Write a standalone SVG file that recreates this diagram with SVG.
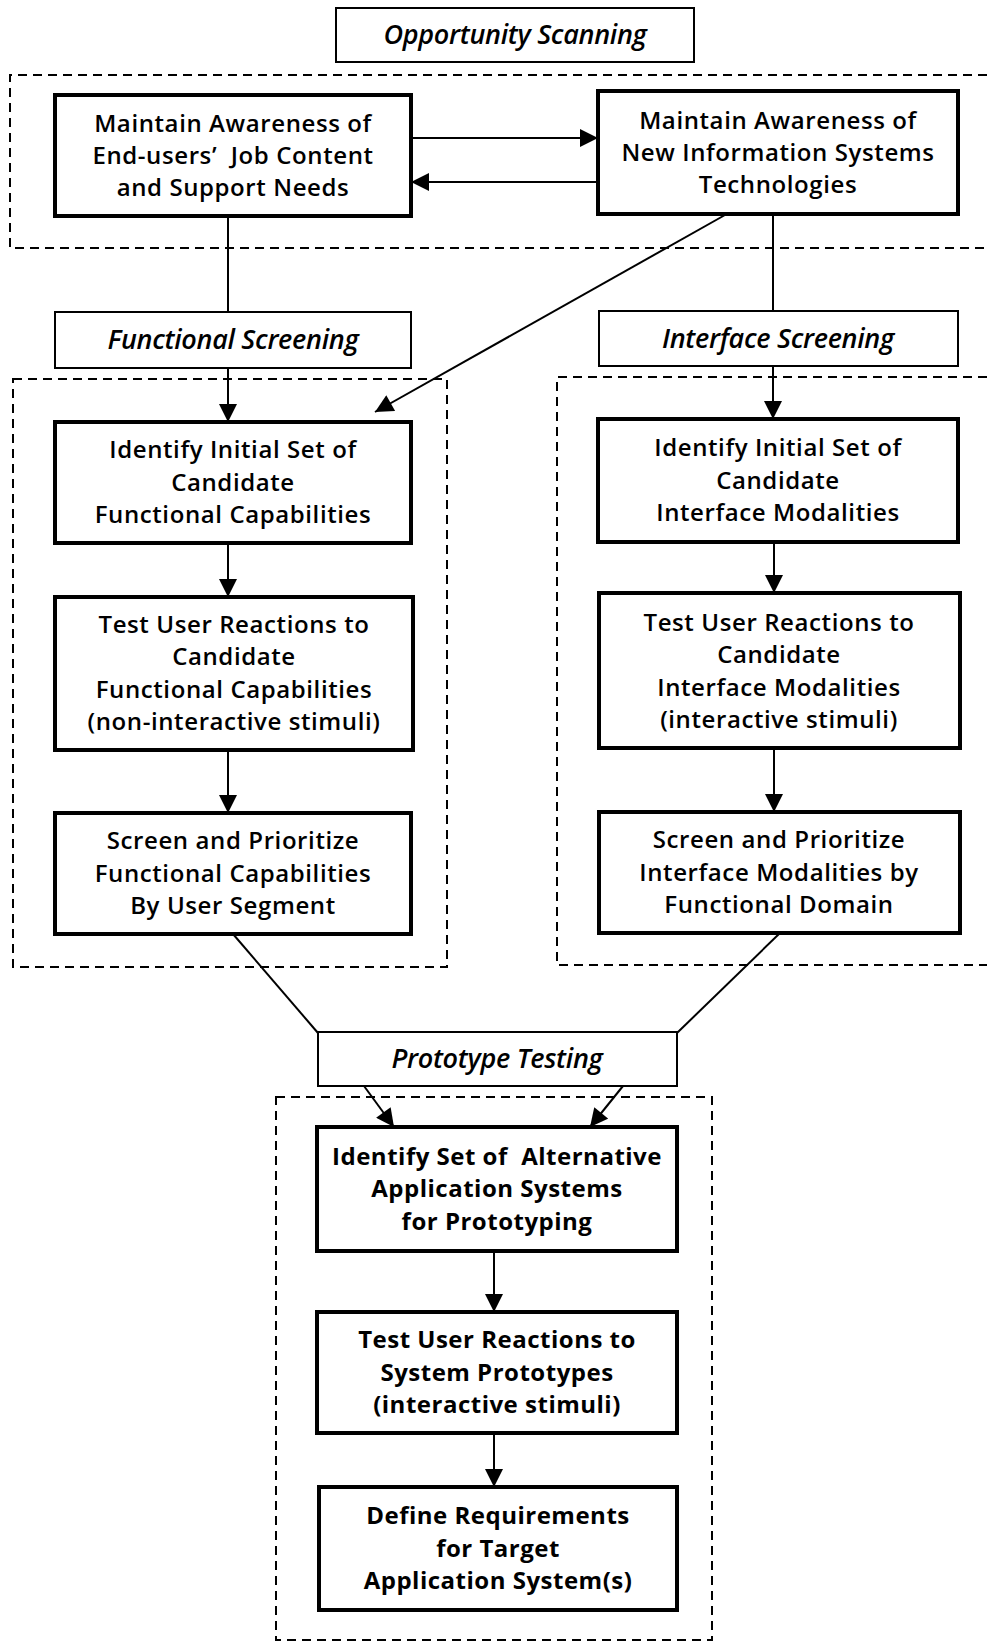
<svg xmlns="http://www.w3.org/2000/svg" width="987" height="1642" viewBox="0 0 987 1642">
  <style>
    .bg { fill: #ffffff; }
    .step { fill: #ffffff; stroke: #000; stroke-width: 4; }
    .phase { fill: #ffffff; stroke: #000; stroke-width: 2; }
    .group { fill: none; stroke: #000; stroke-width: 2; stroke-dasharray: 9 6; }
    .link { fill: none; stroke: #000; stroke-width: 2; }
    .arrow { fill: none; stroke: #000; stroke-width: 2; marker-end: url(#head); }
    text { font-family: "Open Sans", "Liberation Sans", sans-serif; fill: #000; text-anchor: middle; }
    .t { font-size: 24px; letter-spacing: 0.6px; font-weight: 600; }
    .tb { font-size: 24px; letter-spacing: 0.5px; font-weight: 700; }
    .h { font-size: 27px; font-style: italic; font-weight: 600; letter-spacing: -0.3px; }
  </style>
  <defs>
    <marker id="head" viewBox="0 0 10 10" refX="10" refY="5" markerWidth="9.5" markerHeight="9" orient="auto" markerUnits="strokeWidth">
      <path d="M0,0 L10,5 L0,10 z" fill="#000"/>
    </marker>
  </defs>

  <rect class="bg" x="0" y="0" width="987" height="1642"/>

  <!-- dashed phase groupings (right-hand ones run off the page edge) -->
  <g id="groups">
    <path class="group" d="M987,75 H10 V248 H987"/>
    <rect class="group" x="13" y="379" width="434" height="588"/>
    <path class="group" d="M987,377 H557 V965 H987"/>
    <rect class="group" x="276" y="1097" width="436" height="543"/>
  </g>

  <!-- connectors -->
  <g id="connectors">
    <line class="arrow" x1="411" y1="138" x2="598" y2="138"/>
    <line class="arrow" x1="598" y1="182" x2="411" y2="182"/>
    <line class="link" x1="228" y1="216" x2="228" y2="312"/>
    <line class="link" x1="773" y1="214" x2="773" y2="311"/>
    <line class="arrow" x1="725" y1="215" x2="375" y2="412"/>
    <line class="arrow" x1="228" y1="368" x2="228" y2="422"/>
    <line class="arrow" x1="228" y1="543" x2="228" y2="597"/>
    <line class="arrow" x1="228" y1="750" x2="228" y2="813"/>
    <line class="arrow" x1="773" y1="366" x2="773" y2="419"/>
    <line class="arrow" x1="774" y1="542" x2="774" y2="593"/>
    <line class="arrow" x1="774" y1="748" x2="774" y2="812"/>
    <line class="link" x1="233" y1="934" x2="318" y2="1033"/>
    <line class="link" x1="780" y1="933" x2="677" y2="1033"/>
    <line class="arrow" x1="364" y1="1086" x2="394" y2="1127"/>
    <line class="arrow" x1="623" y1="1086" x2="590" y2="1127"/>
    <line class="arrow" x1="494" y1="1251" x2="494" y2="1312"/>
    <line class="arrow" x1="494" y1="1433" x2="494" y2="1487"/>
  </g>

  <!-- phase labels -->
  <g id="opportunity-scanning">
    <rect class="phase" x="336" y="8" width="358" height="54"/>
    <text class="h" x="515" y="44">Opportunity Scanning</text>
  </g>
  <g id="functional-screening">
    <rect class="phase" x="55" y="312" width="356" height="56"/>
    <text class="h" x="233" y="349">Functional Screening</text>
  </g>
  <g id="interface-screening">
    <rect class="phase" x="599" y="311" width="359" height="55"/>
    <text class="h" x="778" y="348">Interface Screening</text>
  </g>
  <g id="prototype-testing">
    <rect class="phase" x="318" y="1032" width="359" height="54"/>
    <text class="h" x="497" y="1068">Prototype Testing</text>
  </g>

  <!-- opportunity scanning steps -->
  <g id="awareness-users">
    <rect class="step" x="55" y="95" width="356" height="121"/>
    <text class="t" x="233" y="132">Maintain Awareness of</text>
    <text class="t" x="233" y="164">End-users’&#160; Job Content</text>
    <text class="t" x="233" y="196">and Support Needs</text>
  </g>
  <g id="awareness-tech">
    <rect class="step" x="598" y="91" width="360" height="123"/>
    <text class="t" x="778" y="129">Maintain Awareness of</text>
    <text class="t" x="778" y="161">New Information Systems</text>
    <text class="t" x="778" y="193">Technologies</text>
  </g>

  <!-- functional screening steps -->
  <g id="func-identify">
    <rect class="step" x="55" y="422" width="356" height="121"/>
    <text class="t" x="233" y="458">Identify Initial Set of</text>
    <text class="t" x="233" y="490.5">Candidate</text>
    <text class="t" x="233" y="523">Functional Capabilities</text>
  </g>
  <g id="func-test">
    <rect class="step" x="55" y="597" width="358" height="153"/>
    <text class="t" x="234" y="633">Test User Reactions to</text>
    <text class="t" x="234" y="665">Candidate</text>
    <text class="t" x="234" y="697.5">Functional Capabilities</text>
    <text class="t" x="234" y="730">(non-interactive stimuli)</text>
  </g>
  <g id="func-screen">
    <rect class="step" x="55" y="813" width="356" height="121"/>
    <text class="t" x="233" y="849">Screen and Prioritize</text>
    <text class="t" x="233" y="881.5">Functional Capabilities</text>
    <text class="t" x="233" y="914">By User Segment</text>
  </g>

  <!-- interface screening steps -->
  <g id="intf-identify">
    <rect class="step" x="598" y="419" width="360" height="123"/>
    <text class="t" x="778" y="456">Identify Initial Set of</text>
    <text class="t" x="778" y="488.5">Candidate</text>
    <text class="t" x="778" y="521">Interface Modalities</text>
  </g>
  <g id="intf-test">
    <rect class="step" x="599" y="593" width="361" height="155"/>
    <text class="t" x="779" y="631">Test User Reactions to</text>
    <text class="t" x="779" y="663">Candidate</text>
    <text class="t" x="779" y="695.5">Interface Modalities</text>
    <text class="t" x="779" y="728">(interactive stimuli)</text>
  </g>
  <g id="intf-screen">
    <rect class="step" x="599" y="812" width="361" height="121"/>
    <text class="t" x="779" y="848">Screen and Prioritize</text>
    <text class="t" x="779" y="880.5">Interface Modalities by</text>
    <text class="t" x="779" y="913">Functional Domain</text>
  </g>

  <!-- prototype testing steps -->
  <g id="proto-identify">
    <rect class="step" x="317" y="1127" width="360" height="124"/>
    <text class="tb" x="497" y="1164.5">Identify Set of&#160; Alternative</text>
    <text class="tb" x="497" y="1197">Application Systems</text>
    <text class="tb" x="497" y="1229.5">for Prototyping</text>
  </g>
  <g id="proto-test">
    <rect class="step" x="317" y="1312" width="360" height="121"/>
    <text class="tb" x="497" y="1348">Test User Reactions to</text>
    <text class="tb" x="497" y="1380.5">System Prototypes</text>
    <text class="tb" x="497" y="1413">(interactive stimuli)</text>
  </g>
  <g id="proto-define">
    <rect class="step" x="319" y="1487" width="358" height="123"/>
    <text class="tb" x="498" y="1524">Define Requirements</text>
    <text class="tb" x="498" y="1556.5">for Target</text>
    <text class="tb" x="498" y="1589">Application System(s)</text>
  </g>
</svg>
